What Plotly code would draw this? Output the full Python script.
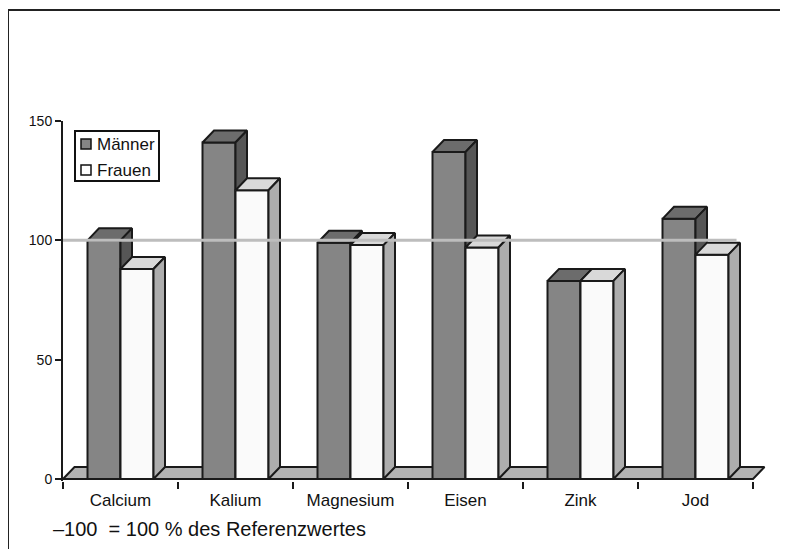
import plotly.graph_objects as go

# ---------------- data ----------------
categories = ["Calcium", "Kalium", "Magnesium", "Eisen", "Zink", "Jod"]
maenner = [100, 141, 99, 137, 83, 109]
frauen = [88, 121, 98, 97, 83, 94]
series_names = ["Männer", "Frauen"]
y_ticks = [0, 50, 100, 150]
ref_value = 100
footnote = "\u2013100  = 100 % des Referenzwertes"

# ---------------- geometry / style ----------------
PAGE_OFF = 8                            # default body margin of the html page
W, H = 788 - PAGE_OFF, 549 - PAGE_OFF
L, R, T, B = 63, 767, 121, 481          # plot area in page pixels
PX_PER_CAT = 115.0
PX_PER_VAL = 2.387
BAR_W = 33 / PX_PER_CAT                 # bar width in category units
DX = 11.5 / PX_PER_CAT                  # 3D depth, x (category units)
DY = 12 / PX_PER_VAL                    # 3D depth, y (value units)
FONT = "Liberation Sans, Arial, sans-serif"
EDGE = "#1a1a1a"

x_range = [-0.5, -0.5 + (R - L) / PX_PER_CAT]
y_range = [150 - (B - T) / PX_PER_VAL, 150]


def px(x):
    return (x - L) / (R - L)


def py(y):
    return (B - y) / (B - T)


def faces(values, offset):
    fx, fy, tx, ty, sx, sy = [], [], [], [], [], []
    for i, v in enumerate(values):
        x0 = i + offset
        x1 = x0 + BAR_W
        fx += [x0, x0, x1, x1, x0, None]
        fy += [0, v, v, 0, 0, None]
        tx += [x0, x1, x1 + DX, x0 + DX, x0, None]
        ty += [v, v, v + DY, v + DY, v, None]
        sx += [x1, x1 + DX, x1 + DX, x1, x1, None]
        sy += [0, DY, v + DY, v, 0, None]
    return (fx, fy), (tx, ty), (sx, sy)


def poly(xy, fill, name):
    return go.Scatter(
        x=xy[0], y=xy[1], mode="lines", fill="toself", fillcolor=fill,
        line=dict(color=EDGE, width=2), name=name, showlegend=False,
        hoverinfo="skip", connectgaps=False,
    )


fig = go.Figure()

# floor
n = len(categories)
floor_x = [-0.5, n - 0.5, n - 0.5 + DX, -0.5 + DX, -0.5]
floor_y = [0, 0, DY, DY, 0]
fig.add_trace(poly((floor_x, floor_y), "#b3b3b3", "floor"))

colors = {
    "Männer": ("#858585", "#6c6c6c", "#565656"),
    "Frauen": ("#fafafa", "#d9d9d9", "#adadad"),
}
for name, vals, off in [(series_names[0], maenner, -BAR_W), (series_names[1], frauen, 0.0)]:
    front, top, side = faces(vals, off)
    cf, ct, cs = colors[name]
    fig.add_trace(poly(front, cf, name))
    fig.add_trace(poly(top, ct, name))
    fig.add_trace(poly(side, cs, name))

# reference line at 100
line_end = n - 1 + BAR_W + DX * 0.7
fig.add_trace(go.Scatter(
    x=[-0.5, line_end], y=[ref_value, ref_value], mode="lines",
    line=dict(color="#bdbdbd", width=3), showlegend=False, hoverinfo="skip",
))

shapes = [
    # outer frame
    dict(type="rect", xref="paper", yref="paper", x0=px(8), x1=px(820),
         y0=py(580), y1=py(10), line=dict(color="#222222", width=2)),
    # legend box
    dict(type="rect", xref="paper", yref="paper", x0=px(75), x1=px(159),
         y0=py(181), y1=py(131), line=dict(color="#111111", width=2),
         fillcolor="white"),
    dict(type="rect", xref="paper", yref="paper", x0=px(81), x1=px(91),
         y0=py(149), y1=py(139), line=dict(color="#111111", width=1.5),
         fillcolor=colors["Männer"][0]),
    dict(type="rect", xref="paper", yref="paper", x0=px(81), x1=px(91),
         y0=py(175), y1=py(165), line=dict(color="#111111", width=1.5),
         fillcolor="white"),
]

annotations = [
    dict(text=series_names[0], xref="paper", yref="paper", x=px(95), y=py(144),
         xanchor="left", yanchor="middle", showarrow=False,
         font=dict(family=FONT, size=17, color="#111111")),
    dict(text=series_names[1], xref="paper", yref="paper", x=px(95), y=py(170),
         xanchor="left", yanchor="middle", showarrow=False,
         font=dict(family=FONT, size=17, color="#111111")),
    dict(text=footnote, xref="paper", yref="paper", x=px(51), y=py(529),
         xanchor="left", yanchor="middle", showarrow=False,
         font=dict(family=FONT, size=20, color="#111111")),
]

fig.update_layout(
    width=W, height=H,
    margin=dict(l=L - PAGE_OFF, r=W - (R - PAGE_OFF), t=T - PAGE_OFF,
                b=H - (B - PAGE_OFF), pad=0),
    paper_bgcolor="white", plot_bgcolor="white",
    showlegend=False,
    shapes=shapes, annotations=annotations,
    font=dict(family=FONT, color="#111111"),
    xaxis=dict(
        range=x_range, showgrid=False, zeroline=False, showline=False,
        tickmode="array", tickvals=list(range(n)), ticktext=categories,
        ticks="outside", ticklen=4, tickcolor="rgba(0,0,0,0)",
        tickfont=dict(family=FONT, size=17, color="#111111"),
        minor=dict(tickmode="array", tickvals=[i - 0.5 for i in range(n + 1)],
                   ticks="outside", ticklen=7, tickwidth=2, tickcolor=EDGE,
                   showgrid=False),
        fixedrange=True,
    ),
    yaxis=dict(
        range=y_range, showgrid=False, zeroline=False,
        showline=True, linecolor=EDGE, linewidth=2,
        tickmode="array", tickvals=y_ticks, ticks="outside", ticklen=6,
        tickwidth=2, tickcolor=EDGE,
        tickfont=dict(family=FONT, size=14, color="#111111"),
        fixedrange=True,
    ),
)

fig.write_html("out.html")
